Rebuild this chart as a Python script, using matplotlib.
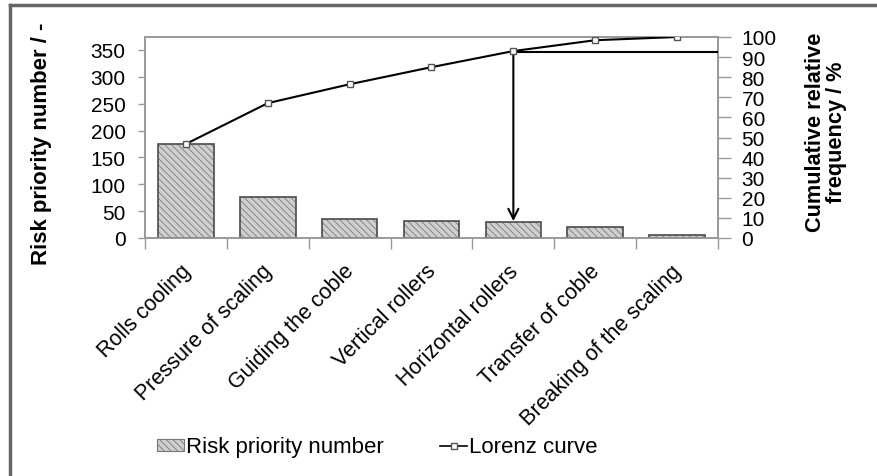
import matplotlib
matplotlib.use("Agg")
import matplotlib.pyplot as plt
import numpy as np
from matplotlib.lines import Line2D
from matplotlib.patches import Patch
from matplotlib.transforms import ScaledTranslation

plt.rcParams['font.family'] = ['Liberation Sans', 'DejaVu Sans']
plt.rcParams['hatch.linewidth'] = 0.6

categories = ["Rolls cooling", "Pressure of scaling", "Guiding the coble",
              "Vertical rollers", "Horizontal rollers", "Transfer of coble",
              "Breaking of the scaling"]
rpn = [175, 76, 35, 32, 30, 20, 6]
lorenz = [46.8, 67.1, 76.5, 85.0, 93.0, 98.4, 100.0]
threshold = 92.5
threshold_index = 4
arrow_end = 7
left_ticks = [0, 50, 100, 150, 200, 250, 300, 350]
right_ticks = [0, 10, 20, 30, 40, 50, 60, 70, 80, 90, 100]

W, H = 878, 477
fig = plt.figure(figsize=(W / 100, H / 100), dpi=100)
ax = fig.add_axes([145 / W, 1 - 239 / H, (718 - 145) / W, (239 - 38) / H])
ax2 = ax.twinx()

x = np.arange(len(categories))
ax.bar(x, rpn, width=0.68, color='#cfcfcf', edgecolor='#7a7a7a', hatch='\\\\\\\\\\',
       linewidth=0, zorder=2)
ax.bar(x, rpn, width=0.68, color='none', edgecolor='#4a4a4a', linewidth=1.2, zorder=3)

ax.set_xlim(-0.5, len(categories) - 0.5)
ax.set_ylim(0, sum(rpn))
ax.set_yticks(left_ticks)
ax.set_xticks(x)
ax.set_xticklabels(categories, rotation=45, ha='right', va='top',
                   rotation_mode='anchor', fontsize=15.5)
ax.set_xticks(np.arange(len(categories) + 1) - 0.5, minor=True)
ax.tick_params(axis='x', which='major', length=0, pad=16)
ax.tick_params(axis='x', which='minor', length=8, width=1, color='#999999', direction='out')
ax.tick_params(axis='y', labelsize=15, length=5, width=1, color='#999999', pad=9)
for s in ax.spines.values():
    s.set_color('#999999')
    s.set_linewidth(1.2)
shift = ScaledTranslation(-6 / 100, 0, fig.dpi_scale_trans)
for lab in ax.get_xticklabels():
    lab.set_transform(lab.get_transform() + shift)

ax.set_ylabel("Risk priority number / -", fontsize=16, fontweight='bold')
ax.yaxis.set_label_coords(-0.163, 0.475)

ax2.plot(x, lorenz, color='black', lw=1.5, marker='s', markersize=5,
         markerfacecolor='white', markeredgecolor='#555555', markeredgewidth=1, zorder=5)
ax2.set_ylim(0, 100)
ax2.set_yticks(right_ticks)
ax2.tick_params(axis='y', labelsize=15, length=9, width=1, color='#999999', pad=8)
for s in ax2.spines.values():
    s.set_color('#999999')
    s.set_linewidth(1.2)
ax2.set_ylabel("Cumulative relative\nfrequency / %", fontsize=15.7, fontweight='bold',
               rotation=90, linespacing=1.0)
ax2.yaxis.set_label_coords(1.152, 0.53)

ax2.plot([threshold_index, len(categories) - 0.5], [threshold, threshold],
         color='black', lw=1.5, zorder=4)
ax2.annotate("", xy=(threshold_index, arrow_end), xytext=(threshold_index, lorenz[threshold_index]),
             arrowprops=dict(arrowstyle='->', color='black', lw=1.5, mutation_scale=18),
             zorder=4)

handles = [Patch(facecolor='#cfcfcf', edgecolor='#777777', hatch='\\\\\\\\\\', linewidth=0.8),
           Line2D([0], [0], color='black', lw=1.2, marker='s', markersize=4,
                  markerfacecolor='white', markeredgecolor='#555555')]
fig.legend(handles, ["Risk priority number", "Lorenz curve"], loc='center left',
           bbox_to_anchor=(157 / W, 1 - 448 / H), ncol=2, frameon=False, fontsize=16,
           handlelength=1.2, handletextpad=0.1, columnspacing=2.55, handleheight=0.45,
           borderpad=0, borderaxespad=0)

fig.add_artist(Line2D([10.5 / W, 10.5 / W], [0, 1 - 6 / H], color='#666666', lw=2.5))
fig.add_artist(Line2D([10.5 / W, 1], [1 - 6 / H, 1 - 6 / H], color='#666666', lw=2.5))

fig.savefig("out.png", dpi=100)
